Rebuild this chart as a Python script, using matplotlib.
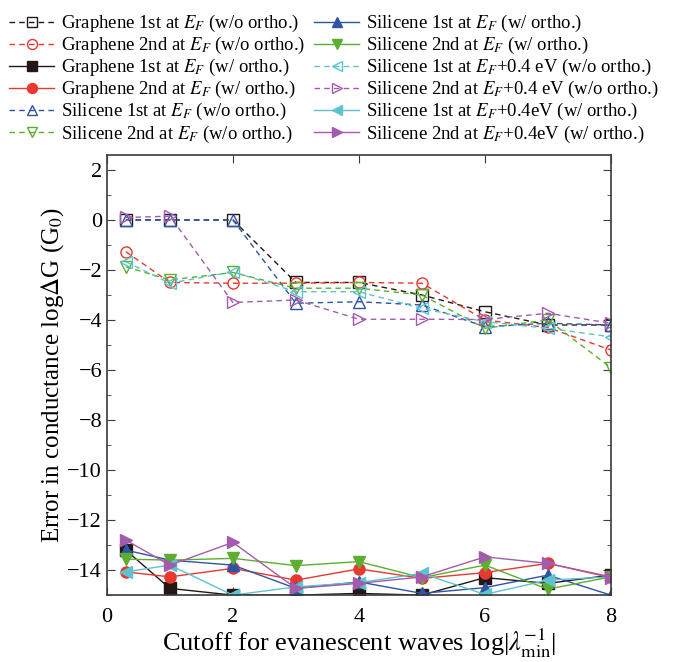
import numpy as np
import matplotlib
matplotlib.use("Agg")
import matplotlib.pyplot as plt
from matplotlib.ticker import MultipleLocator

plt.rcParams["font.family"] = ["Liberation Serif", "DejaVu Serif"]
plt.rcParams["mathtext.fontset"] = "stix"

x = [0.3, 1, 2, 3, 4, 5, 6, 7, 8]

# without orthogonalization (dashed, open markers)
gr1_wo = [0, 0, 0, -2.5, -2.5, -3.0, -3.67, -4.2, -4.2]
gr2_wo = [-1.27, -2.5, -2.53, -2.53, -2.5, -2.53, -4.0, -4.3, -5.2]
si1_wo = [0, 0, 0, -3.33, -3.27, -3.4, -4.27, -4.13, -4.2]
si2_wo = [-1.87, -2.4, -2.1, -2.73, -2.73, -3.0, -4.33, -4.0, -5.9]
si1p_wo = [-1.67, -2.53, -2.07, -2.87, -2.87, -3.53, -4.07, -4.33, -4.67]
si2p_wo = [0.1, 0.15, -3.3, -3.2, -3.97, -3.97, -3.98, -3.73, -4.13]

# with orthogonalization (solid, filled markers)
gr1_w = [-13.2, -14.73, -15.0, -15.0, -14.93, -15.0, -14.3, -14.53, -14.2]
gr2_w = [-14.07, -14.27, -13.93, -14.4, -13.95, -14.33, -14.1, -13.73, -14.27]
si1_w = [-13.2, -13.6, -13.8, -14.73, -14.47, -14.93, -14.7, -14.2, -15.0]
si2_w = [-13.56, -13.6, -13.53, -13.82, -13.66, -14.3, -13.8, -14.76, -14.27]
si1p_w = [-14.07, -13.8, -15.0, -14.67, -14.5, -14.13, -14.97, -14.4, -14.27]
si2p_w = [-12.8, -13.8, -12.89, -14.73, -14.53, -14.27, -13.47, -13.73, -14.3]

c_blk = "#231815"
c_red = "#e8382f"
c_blu = "#2d55a5"
c_grn = "#5cae30"
c_cyn = "#5cc3cf"
c_mag = "#a35bad"

fig = plt.figure(figsize=(6.81, 6.62), dpi=100)
ax = fig.add_axes([0.157, 0.101, 0.74, 0.665])

ms = 8
dash = (0, (4, 3))

def open_line(y, c, m, lab):
    ax.plot(x, y, linestyle=dash, color=c, lw=1, marker=m, ms=ms,
            mfc="none", mec=c, mew=1, label=lab)

def fill_line(y, c, m, lab):
    ax.plot(x, y, linestyle="-", color=c, lw=1, marker=m, ms=ms,
            mfc=c, mec=c, label=lab)

EF = "$E_F$"
open_line(gr1_wo, c_blk, "s", "Graphene 1st at " + EF + " (w/o ortho.)")
open_line(gr2_wo, c_red, "o", "Graphene 2nd at " + EF + " (w/o ortho.)")
fill_line(gr1_w, c_blk, "s", "Graphene 1st at " + EF + " (w/ ortho.)")
fill_line(gr2_w, c_red, "o", "Graphene 2nd at " + EF + " (w/ ortho.)")
open_line(si1_wo, c_blu, "^", "Silicene 1st at " + EF + " (w/o ortho.)")
open_line(si2_wo, c_grn, "v", "Silicene 2nd at " + EF + " (w/o ortho.)")
fill_line(si1_w, c_blu, "^", "Silicene 1st at " + EF + " (w/ ortho.)")
fill_line(si2_w, c_grn, "v", "Silicene 2nd at " + EF + " (w/ ortho.)")
open_line(si1p_wo, c_cyn, "<", "Silicene 1st at " + EF + "+0.4 eV (w/o ortho.)")
open_line(si2p_wo, c_mag, ">", "Silicene 2nd at " + EF + "+0.4 eV (w/o ortho.)")
fill_line(si1p_w, c_cyn, "<", "Silicene 1st at " + EF + "+0.4eV (w/ ortho.)")
fill_line(si2p_w, c_mag, ">", "Silicene 2nd at " + EF + "+0.4eV (w/ ortho.)")

ax.set_xlim(0, 8)
ax.set_ylim(-15, 2.6)
ax.xaxis.set_major_locator(MultipleLocator(2))
ax.yaxis.set_major_locator(MultipleLocator(2))
ax.yaxis.set_minor_locator(MultipleLocator(1))
ax.tick_params(which="both", direction="in", top=True, right=True,
               labelsize=16, color="#3e3a39")
ax.tick_params(which="major", length=6)
ax.tick_params(which="minor", length=3)
ax.tick_params(axis="x", pad=9)
for s in ax.spines.values():
    s.set_color("#3e3a39")
    s.set_linewidth(1.2)

ax.set_xlabel(r"Cutoff for evanescent waves log|$\lambda^{-1}_{\rm min}$|", fontsize=19, labelpad=0)
ax.set_ylabel(r"Error in conductance log$\Delta$G (G$_0$)", fontsize=18, labelpad=1)

fig.legend(loc="upper left", bbox_to_anchor=(-0.006, 1.0), ncol=2, frameon=False,
           fontsize=13.5, handlelength=2.4, handletextpad=0.35, columnspacing=0.5,
           labelspacing=0.05, borderaxespad=0.3, markerscale=0.9)

fig.savefig("out.png", dpi=100)
